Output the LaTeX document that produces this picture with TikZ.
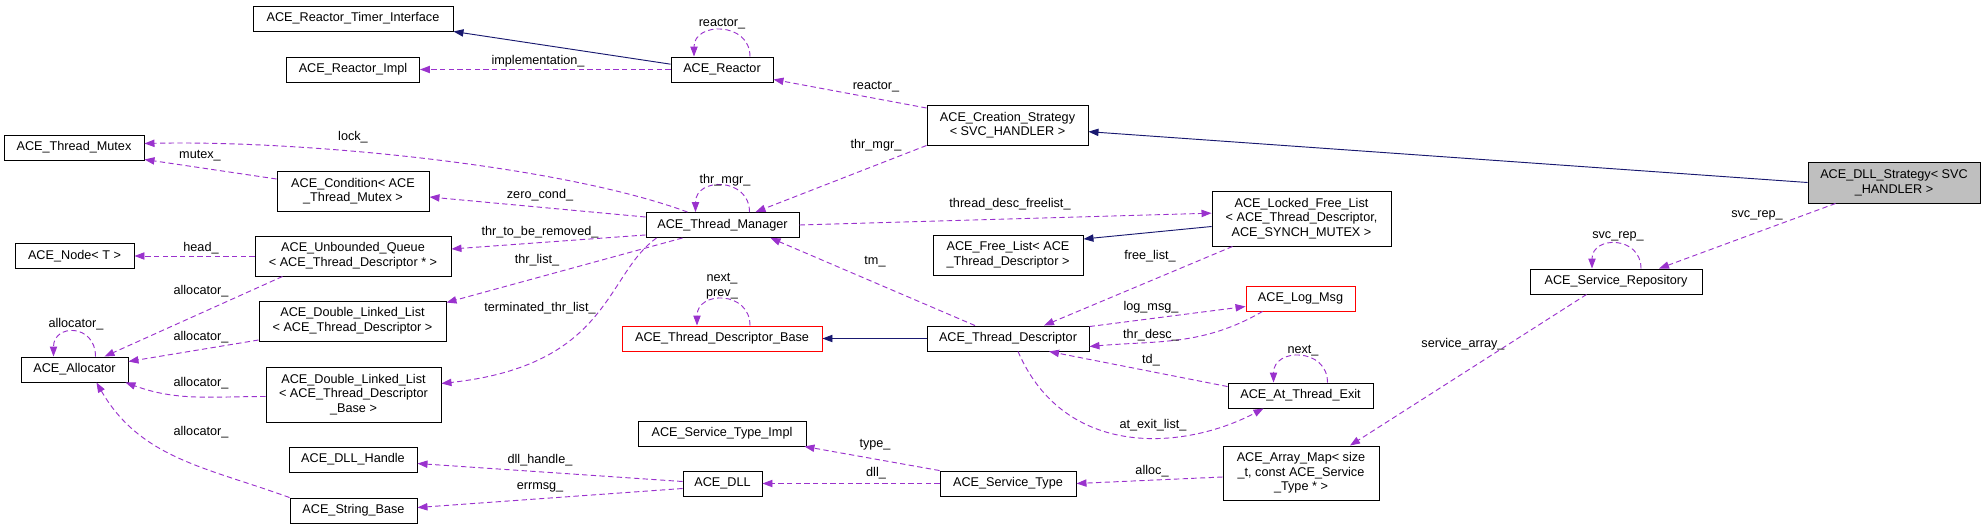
\documentclass[tikz,border=0pt]{standalone}
\usepackage{fontspec}
\setmainfont{Liberation Sans}
\usetikzlibrary{arrows.meta,calc}
\definecolor{inhcol}{HTML}{191970}
\definecolor{usecol}{HTML}{9A32CD}
\tikzset{
  box/.style = {draw, line width=0.7pt, minimum width=#1*0.75pt, minimum height=18.75pt,
    inner sep=1pt, align=center, font=\fontsize{9.5}{11}\selectfont},
  tall/.style = {minimum height=#1*0.75pt},
  lbl/.style = {inner sep=0pt, font=\fontsize{9.5}{11}\selectfont},
  inh/.style = {draw=inhcol, line width=0.7pt, -{Triangle[length=7.5pt,width=5.5pt]}},
  use/.style = {draw=usecol, line width=0.7pt, dash pattern=on 4pt off 2.5pt,
    -{Triangle[length=7.5pt,width=5.5pt,fill=usecol]}}
}
\begin{document}
\begin{tikzpicture}[x=0.75pt, y=-0.75pt]
    \useasboundingbox (0,0) rectangle (1985,529);
    % classes
    \node[box=200] (rti) at (353,18.5) {ACE\_Reactor\_Timer\_Interface};
    \node[box=133] (impl) at (353,69.5) {ACE\_Reactor\_Impl};
    \node[box=102] (r) at (722,69.5) {ACE\_Reactor};
    \node[box=161, tall=40] (cs) at (1007.5,125) {ACE\_Creation\_Strategy\\{< SVC\_HANDLER >}};
    \node[box=140] (mutex) at (74,147.5) {ACE\_Thread\_Mutex};
    \node[box=152, tall=40] (cond) at (353,191) {ACE\_Condition< ACE\\\_Thread\_Mutex >};
    \node[box=153] (tm) at (722.5,225) {ACE\_Thread\_Manager};
    \node[box=179, tall=55] (lfl) at (1301.5,218.5) {ACE\_Locked\_Free\_List\\{< ACE\_Thread\_Descriptor,}\\ACE\_SYNCH\_MUTEX >};
    \node[box=172, tall=41, fill=black!25] (ds) at (1894,182.5) {ACE\_DLL\_Strategy< SVC\\\_HANDLER >};
    \node[box=119] (node) at (74.5,256) {ACE\_Node< T >};
    \node[box=196, tall=40] (uq) at (353,256) {ACE\_Unbounded\_Queue\\{< ACE\_Thread\_Descriptor * >}};
    \node[box=150, tall=40] (fl) at (1008,255) {ACE\_Free\_List< ACE\\\_Thread\_Descriptor >};
    \node[box=172] (sr) at (1616,281.5) {ACE\_Service\_Repository};
    \node[box=107] (alloc) at (74.5,369.5) {ACE\_Allocator};
    \node[box=187, tall=40] (dltd) at (352.5,321) {ACE\_Double\_Linked\_List\\{< ACE\_Thread\_Descriptor >}};
    \node[box=200, draw=red] (tdb) at (722,338.5) {ACE\_Thread\_Descriptor\_Base};
    \node[box=162] (td) at (1008,338.5) {ACE\_Thread\_Descriptor};
    \node[box=109, draw=red] (logmsg) at (1300.5,298.5) {ACE\_Log\_Msg};
    \node[box=145] (ate) at (1300.5,395.5) {ACE\_At\_Thread\_Exit};
    \node[box=175, tall=55] (dltdb) at (353.5,394.5) {ACE\_Double\_Linked\_List\\{< ACE\_Thread\_Descriptor}\\\_Base >};
    \node[box=168] (sti) at (722,433.5) {ACE\_Service\_Type\_Impl};
    \node[box=128] (dllh) at (353,459.5) {ACE\_DLL\_Handle};
    \node[box=79] (dll) at (722.5,483.5) {ACE\_DLL};
    \node[box=136] (st) at (1008,483.5) {ACE\_Service\_Type};
    \node[box=156, tall=54] (am) at (1301,473) {ACE\_Array\_Map< size\\\_t, const ACE\_Service\\\_Type * >};
    \node[box=127] (sb) at (353.5,510.5) {ACE\_String\_Base};
    % inheritance
    \draw[inh] ([yshift=4pt]r.west) -- (rti.south east);
    \draw[inh] (ds.west) -- ([yshift=-5pt]cs.east);
    \draw[inh] ([yshift=-6pt]lfl.west) -- ([yshift=12pt]fl.east);
    \draw[inh] (td.west) -- (tdb.east);
    % members
    \draw[use] (r.west) -- (impl.east);
    \draw[use] ($(r.north)+(28,0)$) .. controls +(0,-35) and +(0,-35) .. ($(r.north)+(-28,0)$);
    \draw[use] ($(cs.west)+(0,-17)$) -- ($(r.south east)+(0,-3)$);
    \draw[use] (cs.south west) -- ($(tm.north)+(33,0)$);
    \draw[use] ($(tm.north)+(27,0)$) .. controls +(0,-35) and +(0,-35) .. ($(tm.north)+(-27,0)$);
    \draw[use] (tm.east) -- ([yshift=4pt]lfl.west);
    \draw[use] ($(tm.north)+(-35,0)$) .. controls (560,165) and (300,140) .. ($(mutex.east)+(0,-4)$);
    \draw[use] ($(cond.west)+(0,-12)$) -- ($(mutex.south east)+(0,-1)$);
    \draw[use] ($(tm.west)+(0,-8)$) -- ($(cond.east)+(0,6)$);
    \draw[use] ($(tm.south west)+(0,-3)$) -- ($(uq.east)+(0,-7)$);
    \draw[use] ($(tm.south)+(-40,0)$) -- ($(dltd.north east)+(0,2)$);
    \draw[use] ($(tm.south)+(-66,0)$) .. controls (605,275) and (610,365) .. ($(dltdb.east)+(0,-11)$);
    \draw[use] (uq.west) -- (node.east);
    \draw[use] ($(uq.south west)+(28,0)$) -- ($(alloc.north)+(30,0)$);
    \draw[use] ($(alloc.north)+(21,0)$) .. controls +(0,-33) and +(0,-33) .. ($(alloc.north)+(-21,0)$);
    \draw[use] ($(dltd.west)+(0,19)$) -- ($(alloc.east)+(0,-8)$);
    \draw[use] ($(dltdb.west)+(0,2)$) to[out=180,in=-20] ($(alloc.south east)+(-3,0)$);
    \draw[use] (sb.north west) to[out=160,in=-60] ($(alloc.south east)+(-32,0)$);
    \draw[use] ($(dll.west)+(0,-2)$) -- ($(dllh.east)+(0,4)$);
    \draw[use] ($(dll.west)+(0,5)$) -- ($(sb.east)+(0,-3)$);
    \draw[use] (st.west) -- (dll.east);
    \draw[use] (st.north west) -- ($(sti.south east)+(-2,0)$);
    \draw[use] ($(am.west)+(0,4)$) -- (st.east);
    \draw[use] ($(sr.south west)+(57,0)$) -- ($(am.north)+(49,0)$);
    \draw[use] ($(sr.north)+(25,0)$) .. controls +(0,-33) and +(0,-33) .. ($(sr.north)+(-24,0)$);
    \draw[use] ($(ds.south west)+(28,0)$) -- ($(sr.north)+(43,0)$);
    \draw[use] ($(td.north)+(-33,0)$) -- ($(tm.south)+(48,0)$);
    \draw[use] ($(lfl.south west)+(21,0)$) -- ($(td.north)+(36,0)$);
    \draw[use] ($(td.north east)+(0,1)$) -- ($(logmsg.west)+(0,8)$);
    \draw[use] ($(logmsg.south west)+(17,0)$) to[out=210,in=5] ($(td.east)+(0,8)$);
    \draw[use] ($(ate.north west)+(0,4)$) -- ($(td.south)+(41,0)$);
    \draw[use] ($(td.south)+(10,0)$) .. controls (1065,460) and (1185,450) .. ($(ate.south)+(-37,0)$);
    \draw[use] ($(ate.north)+(27,0)$) .. controls +(0,-35) and +(0,-35) .. ($(ate.north)+(-27,0)$);
    \draw[use] ($(tdb.north)+(28,0)$) .. controls +(0,-35) and +(0,-35) .. ($(tdb.north)+(-25,0)$);
    % labels
    \node[lbl] (l1) at (538,61) {implementation\_};
    \node[lbl] (l2) at (722,24) {reactor\_};
    \node[lbl] (l3) at (876,87) {reactor\_};
    \node[lbl] (l4) at (876,145) {thr\_mgr\_};
    \node[lbl] (l5) at (725,180) {thr\_mgr\_};
    \node[lbl] (l6) at (1010,204) {thread\_desc\_freelist\_};
    \node[lbl] (l7) at (353,137) {lock\_};
    \node[lbl] (l8) at (200,156) {mutex\_};
    \node[lbl] (l9) at (540,195) {zero\_cond\_};
    \node[lbl] (l10) at (540,232) {thr\_to\_be\_removed\_};
    \node[lbl] (l11) at (537,260) {thr\_list\_};
    \node[lbl] (l12) at (540,308) {terminated\_thr\_list\_};
    \node[lbl] (l13) at (201,248) {head\_};
    \node[lbl] (l14) at (201,291) {allocator\_};
    \node[lbl] (l15) at (76,324) {allocator\_};
    \node[lbl] (l16) at (201,337) {allocator\_};
    \node[lbl] (l17) at (201,383) {allocator\_};
    \node[lbl] (l18) at (201,432) {allocator\_};
    \node[lbl] (l19) at (540,460) {dll\_handle\_};
    \node[lbl] (l20) at (540,487) {errmsg\_};
    \node[lbl] (l21) at (875,445) {type\_};
    \node[lbl] (l22) at (876,473) {dll\_};
    \node[lbl] (l23) at (1152,471) {alloc\_};
    \node[lbl] (l24) at (875,262) {tm\_};
    \node[lbl] (l25) at (1150,256) {free\_list\_};
    \node[lbl] (l26) at (1151,307) {log\_msg\_};
    \node[lbl] (l27) at (1151,335) {thr\_desc\_};
    \node[lbl] (l28) at (1151,360) {td\_};
    \node[lbl] (l29) at (1303,351) {next\_};
    \node[lbl] (l30) at (1153,425) {at\_exit\_list\_};
    \node[lbl, align=center] (l31) at (722,286) {next\_\\prev\_};
    \node[lbl] (l32) at (1618,236) {svc\_rep\_};
    \node[lbl] (l33) at (1757,215) {svc\_rep\_};
    \node[lbl] (l34) at (1463,344) {service\_array\_};
\end{tikzpicture}
\end{document}
